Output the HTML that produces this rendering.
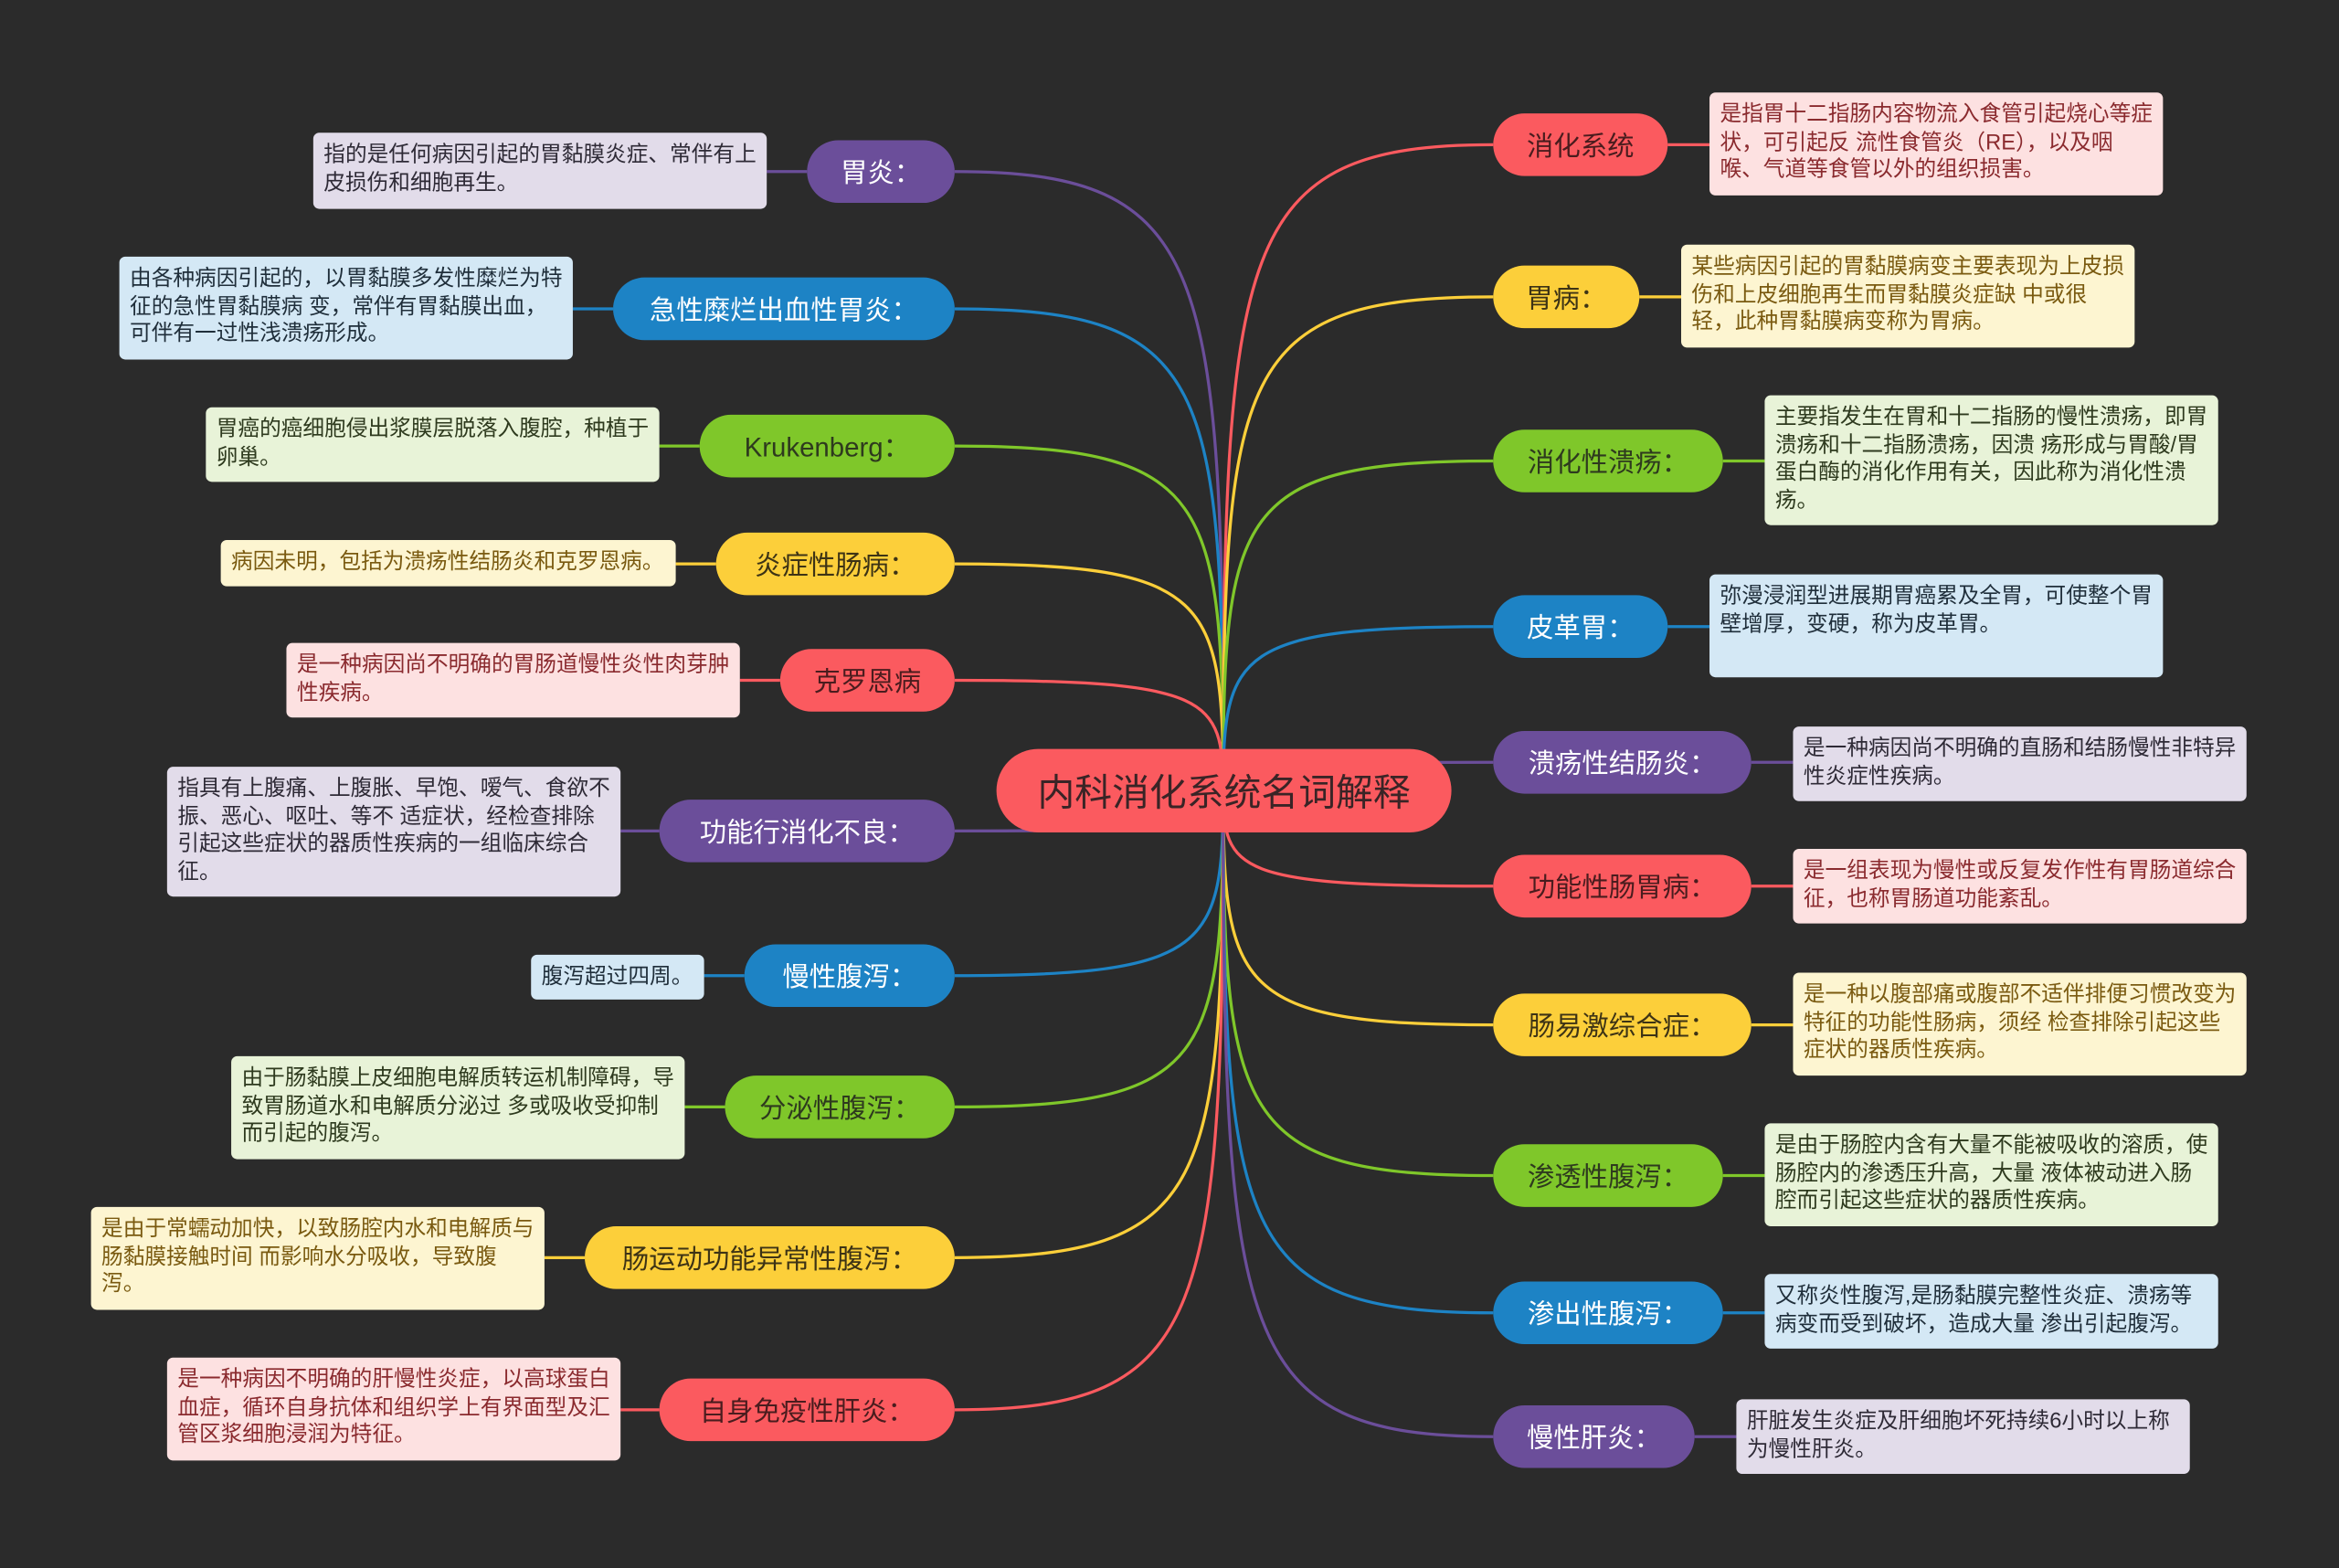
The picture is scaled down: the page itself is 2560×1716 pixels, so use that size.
<!DOCTYPE html>
<html><head><meta charset="utf-8"><style>
html,body{margin:0;padding:0;background:#2b2b2b;}
#w{position:absolute;left:0;top:0;width:1568px;height:1051px;transform:scale(1.63265);transform-origin:0 0;background:#2b2b2b;overflow:hidden;font-family:"Liberation Sans","Noto Sans CJK SC",sans-serif;}
.n{position:absolute;border-radius:22px;display:flex;align-items:center;justify-content:center;font-size:18px;white-space:nowrap;box-sizing:border-box;}
.d{position:absolute;border-radius:4px;font-size:14.5px;line-height:18.5px;padding:6px 7px;box-sizing:border-box;color:#333;}
.P{background:#6b4e9a;color:#fff}.B{background:#1d83c5;color:#fff}.G{background:#7fc72a;color:#2e3a1e}.Y{background:#fccf3a;color:#3d3315}.R{background:#fb5a5f;color:#4a1c1e}
.dP{background:#e2dcea;color:#2e2a36}.dB{background:#d4e8f5;color:#1f2e3a}.dG{background:#e8f3d8;color:#2e3a1e}.dY{background:#fdf5d1;color:#7a5a10}.dR{background:#fde1e1;color:#8a2a2e}
svg{position:absolute;left:0;top:0}
</style></head><body><div id="w">
<svg width="1568" height="1051" fill="none" stroke-width="2">
<g id="c"></g>
</svg>
<div id="nodes"></div>
<div class="n R" style="left:668px;top:502px;width:305px;height:56px;border-radius:28px;font-size:25px;color:#3a2426">内科消化系统名词解释</div>
</div>
<script>
var col={P:'#6b4e9a',B:'#1d83c5',G:'#7fc72a',Y:'#fccf3a',R:'#fb5a5f'};
var L=[
['胃炎：','P',541,94,640,136,210,89,514,140,'指的是任何病因引起的胃黏膜炎症、常伴有上皮损伤和细胞再生。'],
['急性糜烂出血性胃炎：','B',411,186,640,228,80,172,384,241,'由各种病因引起的，以胃黏膜多发性糜烂为特征的急性胃黏膜病 变，常伴有胃黏膜出血，可伴有一过性浅溃疡形成。'],
['Krukenberg：','G',469,278,640,320,138,273,442,323,'胃癌的癌细胞侵出浆膜层脱落入腹腔，种植于卵巢。'],
['炎症性肠病：','Y',480,357,640,399,148,362,453,393,'病因未明，包括为溃疡性结肠炎和克罗恩病。'],
['克罗恩病','R',523,435,640,477,192,431,496,481,'是一种病因尚不明确的胃肠道慢性炎性肉芽肿性疾病。'],
['功能行消化不良：','P',442,536,640,578,112,514,416,601,'指具有上腹痛、上腹胀、早饱、嗳气、食欲不振、恶心、呕吐、等不 适症状，经检查排除引起这些症状的器质性疾病的一组临床综合征。'],
['慢性腹泻：','B',499,633,640,675,356,640,472,670,'腹泻超过四周。'],
['分泌性腹泻：','G',486,721,640,763,155,708,459,777,'由于肠黏膜上皮细胞电解质转运机制障碍，导致胃肠道水和电解质分泌过 多或吸收受抑制而引起的腹泻。'],
['肠运动功能异常性腹泻：','Y',392,822,640,864,61,809,365,878,'是由于常蠕动加快，以致肠腔内水和电解质与肠黏膜接触时间 而影响水分吸收，导致腹泻。'],
['自身免疫性肝炎：','R',442,924,640,966,112,910,416,979,'是一种病因不明确的肝慢性炎症，以高球蛋白血症，循环自身抗体和组织学上有界面型及汇管区浆细胞浸润为特征。'],
['消化系统','R',1001,76,1118,118,1146,62,1450,131,'是指胃十二指肠内容物流入食管引起烧心等症状，可引起反 流性食管炎（RE），以及咽喉、气道等食管以外的组织损害。'],
['胃病：','Y',1001,178,1099,220,1127,164,1431,233,'某些病因引起的胃黏膜病变主要表现为上皮损伤和上皮细胞再生而胃黏膜炎症缺 中或很轻，此种胃黏膜病变称为胃病。'],
['消化性溃疡：','G',1001,288,1155,330,1183,265,1487,352,'主要指发生在胃和十二指肠的慢性溃疡，即胃溃疡和十二指肠溃疡，因溃 疡形成与胃酸/胃蛋白酶的消化作用有关，因此称为消化性溃疡。'],
['皮革胃：','B',1001,399,1118,441,1146,385,1450,454,'弥漫浸润型进展期胃癌累及全胃，可使整个胃壁增厚，变硬，称为皮革胃。'],
['溃疡性结肠炎：','P',1001,490,1174,532,1202,487,1506,537,'是一种病因尚不明确的直肠和结肠慢性非特异性炎症性疾病。'],
['功能性肠胃病：','R',1001,573,1174,615,1202,569,1506,619,'是一组表现为慢性或反复发作性有胃肠道综合征，也称胃肠道功能紊乱。'],
['肠易激综合症：','Y',1001,666,1174,708,1202,652,1506,721,'是一种以腹部痛或腹部不适伴排便习惯改变为特征的功能性肠病，须经 检查排除引起这些症状的器质性疾病。'],
['渗透性腹泻：','G',1001,767,1155,809,1183,753,1487,822,'是由于肠腔内含有大量不能被吸收的溶质，使肠腔内的渗透压升高，大量 液体被动进入肠腔而引起这些症状的器质性疾病。'],
['渗出性腹泻：','B',1001,859,1155,901,1183,854,1487,904,'又称炎性腹泻,是肠黏膜完整性炎症、溃疡等病变而受到破坏，造成大量 渗出引起腹泻。'],
['慢性肝炎：','P',1001,942,1136,984,1164,938,1468,988,'肝脏发生炎症及肝细胞坏死持续6小时以上称为慢性肝炎。']
];
var s='',h='',cx=820,cy=530;
L.forEach(function(a){
 var c=col[a[1]],y=(a[3]+a[5])/2,left=a[2]<cx,tx=left?a[4]:a[2];
 s+='<path stroke="'+c+'" d="M'+cx+' '+cy+' C'+cx+' '+(y+(cy-y)*0.15)+' '+(cx+(tx-cx)*0.05)+' '+y+' '+tx+' '+y+'"/>';
 var lx1=left?a[8]:a[6],lx2=left?a[2]:a[4];
 s+='<line stroke="'+c+'" x1="'+lx1+'" y1="'+y+'" x2="'+lx2+'" y2="'+y+'"/>';
 h+='<div class="n '+a[1]+'" style="left:'+a[2]+'px;top:'+a[3]+'px;width:'+(a[4]-a[2])+'px;height:'+(a[5]-a[3])+'px">'+a[0]+'</div>';
 h+='<div class="d d'+a[1]+'" style="left:'+a[6]+'px;top:'+a[7]+'px;width:'+(a[8]-a[6])+'px;height:'+(a[9]-a[7])+'px">'+a[10]+'</div>';
});
document.getElementById('c').innerHTML=s;
document.getElementById('nodes').innerHTML=h;
</script>
</div></body></html>
